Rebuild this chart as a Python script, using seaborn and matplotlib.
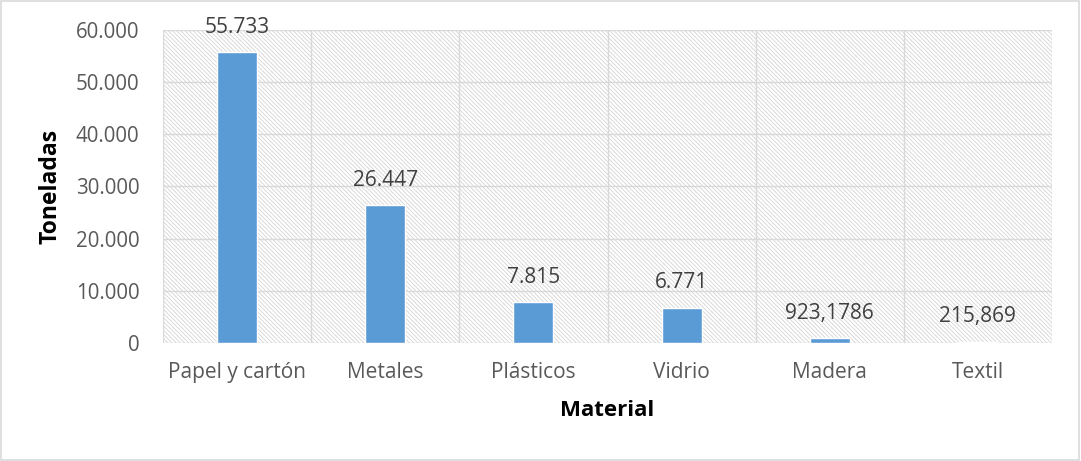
import matplotlib
matplotlib.use("Agg")
import matplotlib.pyplot as plt
import seaborn as sns
import pandas as pd
from matplotlib.patches import Rectangle
from matplotlib.ticker import FixedLocator, FuncFormatter

# data
materials = ["Papel y cartón", "Metales", "Plásticos", "Vidrio", "Madera", "Textil"]
tons = [55733, 26447, 7815, 6771, 923.1786, 215.869]
value_labels = ["55.733", "26.447", "7.815", "6.771", "923,1786", "215,869"]

df = pd.DataFrame({"Material": materials, "Toneladas": tons})

sns.set_style("white")
plt.rcParams["font.family"] = ["Open Sans", "DejaVu Sans"]
plt.rcParams["hatch.linewidth"] = 0.6
plt.rcParams["hatch.color"] = "#d4d4d4"

fig = plt.figure(figsize=(10.81, 4.61), dpi=100)
fig.patches.append(Rectangle((0.001, 0.002), 0.997, 0.995, transform=fig.transFigure,
                             fill=False, edgecolor="#d9d9d9", linewidth=1.2))
ax = fig.add_axes([0.151, 0.256, 0.822, 0.679])

# hatched plot background
ax.add_patch(Rectangle((0, 0), 1, 1, transform=ax.transAxes, facecolor="white",
                       edgecolor="#d4d4d4", hatch="\\\\\\\\\\\\\\\\", linewidth=0, zorder=0))

sns.barplot(data=df, x="Material", y="Toneladas", color="#5b9bd5", width=0.27,
            saturation=1, ax=ax, zorder=3)

ax.set_ylim(0, 60000)
ax.set_xlim(-0.5, len(materials) - 0.5)
ax.yaxis.set_major_locator(FixedLocator(range(0, 60001, 10000)))
ax.yaxis.set_major_formatter(FuncFormatter(lambda v, p: f"{int(v):,}".replace(",", ".")))
ax.xaxis.set_minor_locator(FixedLocator([i - 0.5 for i in range(len(materials) + 1)]))
ax.grid(axis="y", which="major", color="#d9d9d9", linewidth=1, zorder=1)
ax.grid(axis="x", which="minor", color="#d9d9d9", linewidth=1, zorder=1)
ax.set_axisbelow(True)
for s in ax.spines.values():
    s.set_visible(False)
ax.tick_params(axis="both", which="both", length=0, colors="#595959")
ax.tick_params(axis="y", labelsize=14.8, pad=17)
ax.tick_params(axis="x", labelsize=15, pad=14)

for i, (v, lab) in enumerate(zip(tons, value_labels)):
    ax.annotate(lab, (i, v), xytext=(0, 18), textcoords="offset points", ha="center",
                va="center", fontsize=15, color="#404040")

ax.set_xlabel("Material", fontsize=16, fontweight="bold", color="black", labelpad=12)
ax.set_ylabel("Toneladas", fontsize=16.5, fontweight="bold", color="black", labelpad=10)

fig.savefig("out.png", dpi=100)
